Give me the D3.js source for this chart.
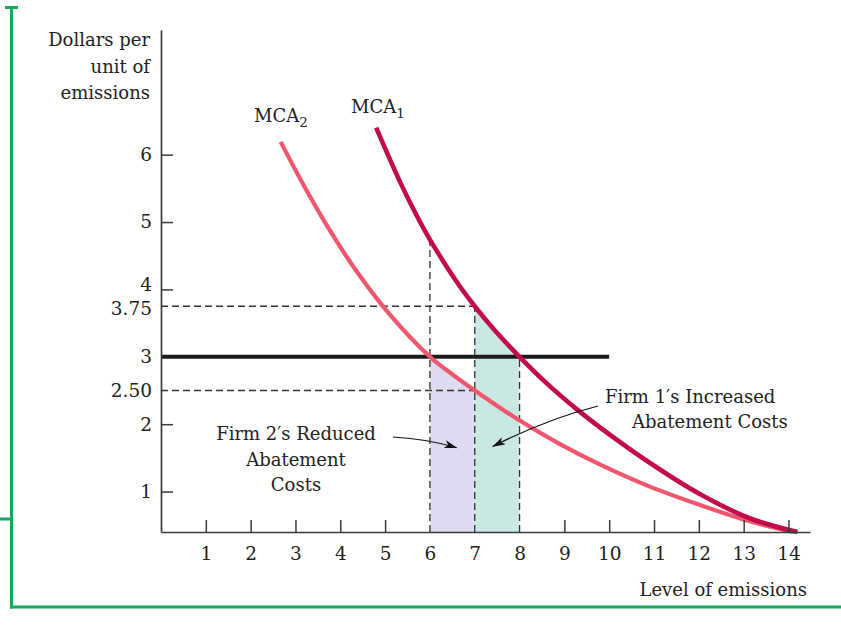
<!DOCTYPE html>
<html>
<head>
<meta charset="utf-8">
<script src="https://cdn.jsdelivr.net/npm/d3@7"></script>
<style>
  html, body { margin: 0; padding: 0; background: #ffffff; }
  svg { display: block; }
</style>
</head>
<body>
<svg id="chart" width="841" height="640"></svg>
<script>
// ---------------- DATA ----------------
const xTickValues = [1, 2, 3, 4, 5, 6, 7, 8, 9, 10, 11, 12, 13, 14];
const xTickLabels = ["1", "2", "3", "4", "5", "6", "7", "8", "9", "10", "11", "12", "13", "14"];
const yTickValues = [1, 2, 2.5, 3, 3.75, 4, 5, 6];
const yTickLabels = ["1", "2", "2.50", "3", "3.75", "4", "5", "6"];

// Marginal cost of abatement, firm 1 (level of emissions, $ per unit)
const mca1X = [4.8, 5.33, 5.71, 6, 6.6, 7, 7.45, 8, 8.6, 9.28, 9.8, 10.92, 12.03, 13.15, 14.2];
const mca1Y = [6.4, 5.6, 5.09, 4.74, 4.11, 3.75, 3.39, 3.0, 2.61, 2.22, 1.95, 1.42, 0.96, 0.60, 0.4];
// Marginal cost of abatement, firm 2
const mca2X = [2.67, 3.18, 3.70, 4.29, 5.05, 6, 6.5, 7, 7.94, 8.86, 9.8, 10.92, 12.03, 13.15, 14.1];
const mca2Y = [6.19, 5.55, 4.95, 4.34, 3.67, 3.0, 2.74, 2.5, 2.08, 1.72, 1.40, 1.07, 0.80, 0.555, 0.40];

// Permit price line
const priceLevel = 3;
const priceLineXEnd = 10;

// Dashed guide lines
const dashVX = [6, 7, 8];
const dashVTop = [4.74, 3.75, 3.0];
const dashHY = [3.75, 2.5];
const dashHXEnd = [7, 7];

// Shaded cost areas: [from, to] in level of emissions
const firm2Shade = [6, 7];   // under MCA2
const firm1Shade = [7, 8];   // under MCA1

// Annotation arrow tips (data space)
const arrowTipX = [6.6, 7.4];
const arrowTipY = [1.65, 1.67];

// ---------------- LAYOUT ----------------
const FONT = "'DejaVu Serif', 'Liberation Serif', serif";
const TXT = "#222";
const svg = d3.select("#chart");

const x = d3.scaleLinear().domain([0, 14.48]).range([161, 810]);
const y = d3.scaleLinear().domain([0.4, 7.85]).range([532, 30]);
const yBase = y.domain()[0];

// Green frame
const green = "#17a85a";
const frame = svg.append("g").attr("stroke", green).attr("stroke-width", 3).attr("fill", "none");
frame.append("line").attr("x1", 11.5).attr("x2", 11.5).attr("y1", 6).attr("y2", 608.5);
frame.append("line").attr("x1", 5).attr("x2", 18).attr("y1", 7.5).attr("y2", 7.5);
frame.append("line").attr("x1", 0).attr("x2", 11.5).attr("y1", 519).attr("y2", 519);
frame.append("line").attr("x1", 10).attr("x2", 841).attr("y1", 607).attr("y2", 607);

const mca1 = d3.zip(mca1X, mca1Y);
const mca2 = d3.zip(mca2X, mca2Y);
const curve = d3.curveCatmullRom.alpha(0.5);

const line = d3.line().x(d => x(d[0])).y(d => y(d[1])).curve(curve);
const area = d3.area().x(d => x(d[0])).y0(y(yBase)).y1(d => y(d[1])).curve(curve);

const defs = svg.append("defs");
defs.append("clipPath").attr("id", "clip2").append("rect")
  .attr("x", x(firm2Shade[0])).attr("width", x(firm2Shade[1]) - x(firm2Shade[0]))
  .attr("y", 0).attr("height", 640);
defs.append("clipPath").attr("id", "clip1").append("rect")
  .attr("x", x(firm1Shade[0])).attr("width", x(firm1Shade[1]) - x(firm1Shade[0]))
  .attr("y", 0).attr("height", 640);
defs.append("marker").attr("id", "arrowhead")
  .attr("viewBox", "0 0 13 8").attr("refX", 12.5).attr("refY", 4)
  .attr("markerWidth", 13).attr("markerHeight", 8)
  .attr("markerUnits", "userSpaceOnUse").attr("orient", "auto")
  .append("path").attr("d", "M0,0 L13,4 L0,8 L3.5,4 Z").attr("fill", "#111");

// Shading
svg.append("path").attr("d", area(mca2)).attr("fill", "#dddbef").attr("clip-path", "url(#clip2)");
svg.append("path").attr("d", area(mca1)).attr("fill", "#c9e7e3").attr("clip-path", "url(#clip1)");

// Dashed guides
const dashG = svg.append("g").attr("stroke", "#333").attr("stroke-width", 1.3)
  .attr("stroke-dasharray", "7,4").attr("fill", "none");
dashVX.forEach((v, i) => {
  dashG.append("line").attr("x1", x(v)).attr("x2", x(v))
    .attr("y1", y(yBase)).attr("y2", y(dashVTop[i]));
});
dashHY.forEach((v, i) => {
  dashG.append("line").attr("x1", x(0)).attr("x2", x(dashHXEnd[i]))
    .attr("y1", y(v)).attr("y2", y(v));
});

// Price line
svg.append("line").attr("x1", x(0)).attr("x2", x(priceLineXEnd))
  .attr("y1", y(priceLevel)).attr("y2", y(priceLevel))
  .attr("stroke", "#1b1b1b").attr("stroke-width", 4);

// Curves
svg.append("path").attr("d", line(mca2)).attr("fill", "none")
  .attr("stroke", "#f0576f").attr("stroke-width", 4.2);
svg.append("path").attr("d", line(mca1)).attr("fill", "none")
  .attr("stroke", "#c30a4b").attr("stroke-width", 4.6);

// Axes
const xAxis = d3.axisBottom(x).tickValues(xTickValues)
  .tickFormat((d, i) => xTickLabels[i])
  .tickSizeInner(-12).tickSizeOuter(0).tickPadding(15);
const yAxis = d3.axisLeft(y).tickValues(yTickValues)
  .tickFormat((d, i) => yTickLabels[i])
  .tickSizeInner(-12).tickSizeOuter(0).tickPadding(9);

const gx = svg.append("g").attr("transform", `translate(0,${y(yBase)})`).call(xAxis);
const gy = svg.append("g").attr("transform", `translate(${x(0)},0)`).call(yAxis);

[gx, gy].forEach(g => {
  g.attr("font-family", FONT).attr("font-size", 18.5);
  g.select(".domain").attr("stroke", "#3a3a3a").attr("stroke-width", 1.7);
  g.selectAll(".tick line").attr("stroke", "#3a3a3a").attr("stroke-width", 1.5);
  g.selectAll(".tick text").attr("fill", TXT);
});
gx.selectAll(".tick").filter(d => dashVX.includes(d)).select("line").remove();
gy.selectAll(".tick").filter(d => dashHY.includes(d) || d === priceLevel).select("line").remove();
// keep the closely spaced "4" and "3.75" labels apart
gy.selectAll(".tick").filter(d => d === 4).select("text").attr("y", -5);
gy.selectAll(".tick").filter(d => d === 3.75).select("text").attr("y", 2);

// Axis titles
const yTitle = svg.append("text").attr("font-family", FONT).attr("font-size", 18)
  .attr("fill", TXT).attr("text-anchor", "end");
["Dollars per", "unit of", "emissions"].forEach((t, i) => {
  yTitle.append("tspan").attr("x", 150).attr("y", 46 + i * 26.5).text(t);
});
svg.append("text").attr("font-family", FONT).attr("font-size", 18).attr("fill", TXT)
  .attr("text-anchor", "end").attr("x", 807).attr("y", 596).text("Level of emissions");

// Curve labels
function mcaLabel(px, py, sub) {
  const t = svg.append("text").attr("font-family", FONT).attr("font-size", 18)
    .attr("fill", TXT).attr("x", px).attr("y", py);
  t.append("tspan").text("MCA");
  t.append("tspan").attr("font-size", 13.5).attr("dy", 5).text(sub);
}
mcaLabel(254, 122, "2");
mcaLabel(351, 113, "1");

// Annotations
const a2 = svg.append("text").attr("font-family", FONT).attr("font-size", 18)
  .attr("fill", TXT).attr("text-anchor", "middle");
["Firm 2\u2032s Reduced", "Abatement", "Costs"].forEach((t, i) => {
  a2.append("tspan").attr("x", 296).attr("y", 440 + i * 25.5).text(t);
});
const a1 = svg.append("text").attr("font-family", FONT).attr("font-size", 18).attr("fill", TXT);
a1.append("tspan").attr("x", 605).attr("y", 403).text("Firm 1\u2032s Increased");
a1.append("tspan").attr("x", 632).attr("y", 428).text("Abatement Costs");

const arrowStarts = [[393, 437], [598, 406]];
const arrowCtrls = [[428, 439], [547, 419]];
arrowStarts.forEach((s, i) => {
  const tx = x(arrowTipX[i]), ty = y(arrowTipY[i]);
  const c = arrowCtrls[i];
  svg.append("path")
    .attr("d", `M${s[0]},${s[1]} Q${c[0]},${c[1]} ${tx},${ty}`)
    .attr("fill", "none").attr("stroke", "#111").attr("stroke-width", 1.2)
    .attr("marker-end", "url(#arrowhead)");
});
</script>
</body>
</html>
